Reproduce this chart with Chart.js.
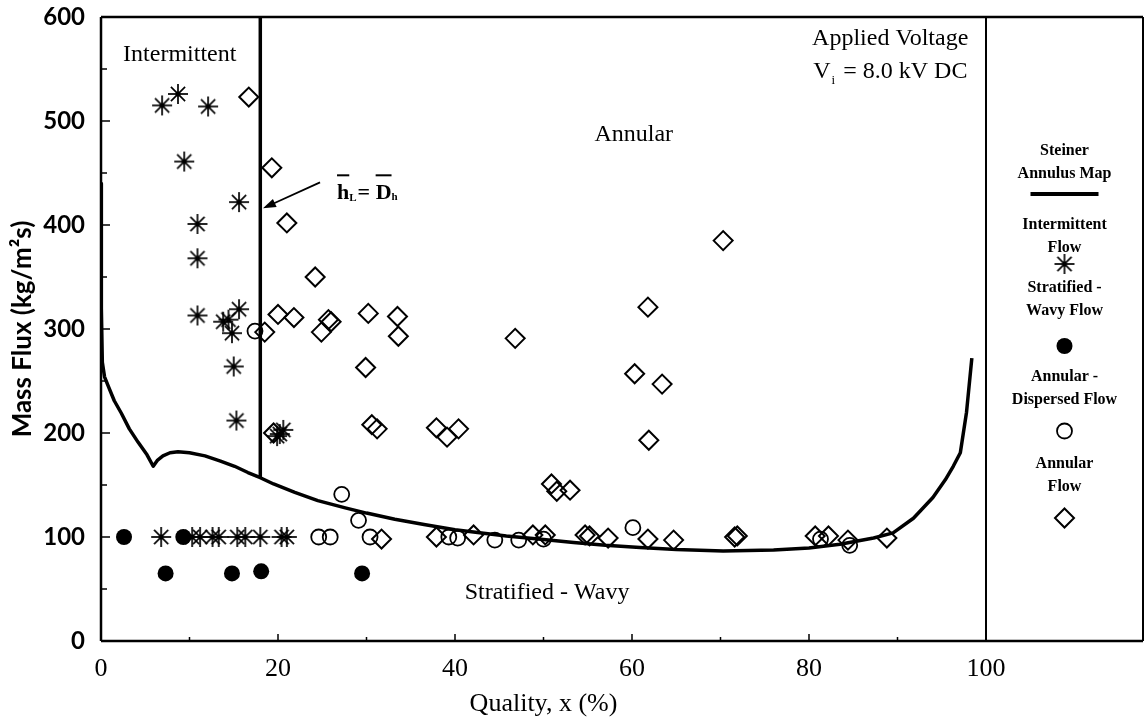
<!DOCTYPE html>
<html>
<head>
<meta charset="utf-8">
<script src="https://cdn.jsdelivr.net/npm/chart.js@4.4.1/dist/chart.umd.min.js"></script>
<style>
  html, body { margin: 0; padding: 0; background: #fff; }
  #wrap { width: 1145px; height: 720px; position: relative; }
</style>
</head>
<body>
<div id="wrap"><canvas id="flowMap"></canvas></div>
<script>
// Steiner annulus map boundary: quality x (%) vs mass flux (kg/m2s)
const steinerX = [0, 0.02, 0.06, 0.15, 0.4, 0.82, 1.5, 2.3, 3.2, 4.2, 5.2, 5.9, 6.4, 7.0, 7.8, 8.7, 10.0, 11.75, 13.5, 15.1, 16.6, 18.0,
  19.5, 21.9, 24.5, 27.6, 30.0, 33.2, 36.5, 40.0, 45.8, 50.0, 53.4, 57.0, 60.9, 65.0, 70.3, 76.0, 80.0, 83.5, 87.3, 89.5,
  91.8, 94.0, 95.4, 96.3, 97.1, 97.8, 98.4];
const steinerY = [440, 380, 320, 268, 254, 245, 231, 219, 204, 191, 179, 168, 174, 178, 181, 182, 181, 178, 173, 168, 162, 157,
  151, 143, 135, 128, 123, 117, 112, 107, 101, 97.5, 94.6, 92, 90, 88, 86.5, 87.5, 89.5, 93, 99, 104,
  118, 138, 155, 168, 181, 220, 272];

// h_L = D_h transition line
const transX = [18, 18];
const transY = [600, 157];

// Intermittent flow
const intermittentX = [6.9, 8.7, 12.1, 9.4, 15.6, 10.9, 10.9, 10.9, 13.8, 14.4, 15.6, 14.8, 15.0, 15.3, 19.9, 20.6, 20.2,
  6.8, 10.3, 11.2, 12.6, 13.3, 15.4, 16.3, 18.0, 20.4, 21.0];
const intermittentY = [515, 526, 514, 461, 422, 401, 368, 313, 307, 309, 319, 296, 264, 212, 197, 203, 199,
  100, 100, 100, 100, 100, 100, 100, 100, 100, 100];

// Stratified - wavy flow
const stratifiedX = [2.6, 9.3, 7.3, 14.8, 18.1, 29.5];
const stratifiedY = [100, 100, 65, 65, 67, 65];

// Annular - dispersed flow
const dispersedX = [17.4, 27.2, 29.1, 24.6, 25.9, 30.4, 39.3, 40.3, 44.5, 47.2, 50.0, 60.1, 81.3, 84.6];
const dispersedY = [298, 141, 116, 100, 100, 100, 100, 99, 97, 97, 98, 109, 98, 92];

// Annular flow
const annularX = [16.7, 19.3, 21.0, 24.2, 20.0, 21.8, 18.5, 25.7, 26.0, 24.9, 30.2, 33.5, 33.6, 29.9, 30.6, 31.2,
  37.9, 39.1, 40.4, 19.5, 70.3, 61.8, 46.8, 60.3, 63.4, 61.9, 50.9, 51.5, 53.0,
  31.7, 37.9, 42.1, 48.8, 50.2, 54.7, 55.2, 57.3, 61.8, 64.7, 71.6, 71.9, 80.7, 82.2, 84.4, 88.8];
const annularY = [523, 455, 402, 350, 314, 311, 297, 309, 307, 297, 315, 312, 293, 263, 208, 204,
  205, 196, 204, 200, 385, 321, 291, 257, 247, 193, 151, 144, 145,
  98, 100, 102, 102, 102, 102, 101, 99, 98, 97, 100, 101, 101, 101, 97, 99];

const xTicks = [0, 20, 40, 60, 80, 100];
const yTicks = [0, 100, 200, 300, 400, 500, 600];

const SERIF = '"Liberation Serif", "Times New Roman", serif';
const SANS = 'Lato, "Open Sans", sans-serif';

function pts(xs, ys) {
  return xs.map((x, i) => ({ x: x, y: ys[i] }));
}

// eight-spoke asterisk with a dot in the middle
function makeAsterisk(r, lw) {
  const c = document.createElement('canvas');
  const s = Math.ceil(2 * r + 4);
  c.width = s;
  c.height = s;
  const g = c.getContext('2d');
  const m = s / 2;
  g.strokeStyle = '#000';
  g.fillStyle = '#000';
  g.lineWidth = lw;
  for (let k = 0; k < 4; k++) {
    const a = k * Math.PI / 4;
    g.beginPath();
    g.moveTo(m - r * Math.cos(a), m - r * Math.sin(a));
    g.lineTo(m + r * Math.cos(a), m + r * Math.sin(a));
    g.stroke();
  }
  g.beginPath();
  g.arc(m, m, 2.5, 0, Math.PI * 2);
  g.fill();
  return c;
}
const starImg = makeAsterisk(10, 1.7);

function drawDiamond(ctx, x, y, r) {
  ctx.beginPath();
  ctx.moveTo(x, y - r);
  ctx.lineTo(x + r, y);
  ctx.lineTo(x, y + r);
  ctx.lineTo(x - r, y);
  ctx.closePath();
  ctx.stroke();
}

const decorPlugin = {
  id: 'flowMapDecor',
  afterDraw(chart) {
    const ctx = chart.ctx;
    const xs = chart.scales.x;
    const ys = chart.scales.y;
    const area = chart.chartArea;
    const W = chart.width;
    const px = v => xs.getPixelForValue(v);
    const py = v => ys.getPixelForValue(v);
    const right = W - 2;

    ctx.save();
    ctx.strokeStyle = '#000';
    ctx.fillStyle = '#000';

    // frame
    ctx.lineWidth = 2.5;
    ctx.beginPath();
    ctx.moveTo(area.left, area.top);
    ctx.lineTo(right, area.top);
    ctx.moveTo(area.left, area.top);
    ctx.lineTo(area.left, area.bottom);
    ctx.moveTo(area.left, area.bottom);
    ctx.lineTo(right, area.bottom);
    ctx.stroke();
    ctx.lineWidth = 2;
    ctx.beginPath();
    ctx.moveTo(area.right, area.top);
    ctx.lineTo(area.right, area.bottom);
    ctx.moveTo(right, area.top);
    ctx.lineTo(right, area.bottom);
    ctx.stroke();

    // inward tick marks
    ctx.lineWidth = 1.5;
    ctx.beginPath();
    for (let v = 50; v < 600; v += 50) {
      const len = v % 100 === 0 ? 9 : 6;
      ctx.moveTo(area.left, py(v));
      ctx.lineTo(area.left + len, py(v));
    }
    for (let v = 10; v < 100; v += 10) {
      const len = v % 20 === 0 ? 7 : 4;
      ctx.moveTo(px(v), area.bottom);
      ctx.lineTo(px(v), area.bottom - len);
    }
    ctx.stroke();

    // region labels
    ctx.font = '24px ' + SERIF;
    ctx.textBaseline = 'middle';
    ctx.textAlign = 'center';
    ctx.fillText('Intermittent', px(8.9), py(564));
    ctx.fillText('Annular', px(60.2), py(487));
    ctx.fillText('Stratified - Wavy', px(50.4), py(46.8));
    ctx.textAlign = 'right';
    ctx.fillText('Applied Voltage', px(98.0), py(579.5));

    // V_i = 8.0 kV DC
    const rest = '= 8.0 kV DC';
    const vy = py(547.6);
    const rx = px(97.9);
    const wRest = ctx.measureText(rest).width;
    ctx.fillText(rest, rx, vy);
    ctx.font = '13px ' + SERIF;
    const wi = ctx.measureText('i').width;
    ctx.textAlign = 'left';
    ctx.fillText('i', rx - wRest - 8 - wi, vy + 9);
    ctx.font = '24px ' + SERIF;
    ctx.textAlign = 'right';
    ctx.fillText('V', rx - wRest - 8 - wi - 1, vy);

    // arrow towards the transition line
    const tx = px(18.3), ty = py(416);
    const sx = px(24.75), sy = py(441);
    const ang = Math.atan2(ty - sy, tx - sx);
    ctx.lineWidth = 1.8;
    ctx.beginPath();
    ctx.moveTo(sx, sy);
    ctx.lineTo(tx - 8 * Math.cos(ang), ty - 8 * Math.sin(ang));
    ctx.stroke();
    ctx.beginPath();
    ctx.moveTo(tx, ty);
    ctx.lineTo(tx - 13 * Math.cos(ang) + 4.5 * Math.sin(ang), ty - 13 * Math.sin(ang) - 4.5 * Math.cos(ang));
    ctx.lineTo(tx - 13 * Math.cos(ang) - 4.5 * Math.sin(ang), ty - 13 * Math.sin(ang) + 4.5 * Math.cos(ang));
    ctx.closePath();
    ctx.fill();

    // h_L = D_h label with overbars
    ctx.textAlign = 'left';
    ctx.textBaseline = 'alphabetic';
    let hx = px(26.67);
    const hb = py(424.7);
    ctx.font = 'bold 22px ' + SERIF;
    const wh = ctx.measureText('h').width;
    ctx.fillText('h', hx, hb);
    ctx.fillRect(hx, hb - 25, wh, 2);
    hx += wh;
    ctx.font = 'bold 11px ' + SERIF;
    ctx.fillText('L', hx, hb + 2);
    hx += ctx.measureText('L').width + 1;
    ctx.font = 'bold 22px ' + SERIF;
    ctx.fillText('=', hx, hb);
    hx += ctx.measureText('= ').width;
    const wD = ctx.measureText('D').width;
    ctx.fillText('D', hx, hb);
    ctx.fillRect(hx, hb - 25, wD, 2);
    hx += wD;
    ctx.font = 'bold 11px ' + SERIF;
    ctx.fillText('h', hx, hb + 1);

    // legend panel
    const lx = (area.right + right) / 2;
    ctx.textAlign = 'center';
    ctx.textBaseline = 'middle';
    ctx.font = 'bold 16px ' + SERIF;
    const rows = [
      ['Steiner', 151], ['Annulus Map', 174],
      ['Intermittent', 225], ['Flow', 248],
      ['Stratified -', 288], ['Wavy Flow', 311],
      ['Annular -', 377], ['Dispersed Flow', 400],
      ['Annular', 464], ['Flow', 487]
    ];
    rows.forEach(r => ctx.fillText(r[0], lx, r[1]));
    ctx.lineWidth = 4;
    ctx.beginPath();
    ctx.moveTo(lx - 34, 194);
    ctx.lineTo(lx + 34, 194);
    ctx.stroke();
    ctx.drawImage(starImg, lx - starImg.width / 2, 264 - starImg.height / 2);
    ctx.beginPath();
    ctx.arc(lx, 346, 8, 0, Math.PI * 2);
    ctx.fill();
    ctx.lineWidth = 1.8;
    ctx.beginPath();
    ctx.arc(lx, 431, 7.5, 0, Math.PI * 2);
    ctx.stroke();
    ctx.lineWidth = 2;
    drawDiamond(ctx, lx, 518, 9.5);

    ctx.restore();
  }
};

new Chart(document.getElementById('flowMap'), {
  type: 'scatter',
  data: {
    datasets: [
      {
        label: 'Steiner Annulus Map',
        data: pts(steinerX, steinerY),
        showLine: true,
        borderColor: '#000',
        borderWidth: 3.5,
        borderJoinStyle: 'round',
        pointRadius: 0,
        tension: 0
      },
      {
        label: 'hL = Dh',
        data: pts(transX, transY),
        showLine: true,
        borderColor: '#000',
        borderWidth: 3.5,
        pointRadius: 0
      },
      {
        label: 'Intermittent Flow',
        data: pts(intermittentX, intermittentY),
        pointStyle: starImg,
        pointRadius: 10
      },
      {
        label: 'Stratified - Wavy Flow',
        data: pts(stratifiedX, stratifiedY),
        pointStyle: 'circle',
        pointRadius: 8,
        backgroundColor: '#000',
        borderColor: '#000',
        borderWidth: 0
      },
      {
        label: 'Annular - Dispersed Flow',
        data: pts(dispersedX, dispersedY),
        pointStyle: 'circle',
        pointRadius: 7.5,
        backgroundColor: 'rgba(0,0,0,0)',
        borderColor: '#000',
        borderWidth: 1.8
      },
      {
        label: 'Annular Flow',
        data: pts(annularX, annularY),
        pointStyle: 'rectRot',
        pointRadius: 9.5,
        backgroundColor: 'rgba(0,0,0,0)',
        borderColor: '#000',
        borderWidth: 2
      }
    ]
  },
  options: {
    responsive: true,
    maintainAspectRatio: false,
    devicePixelRatio: 1,
    animation: false,
    events: [],
    layout: { padding: { top: 17, right: 159, left: 0, bottom: 0 } },
    plugins: {
      legend: { display: false },
      tooltip: { enabled: false }
    },
    scales: {
      x: {
        type: 'linear',
        min: 0,
        max: 100,
        afterFit: s => { s.height = 79; },
        afterBuildTicks: s => { s.ticks = xTicks.map(v => ({ value: v })); },
        grid: { display: false, drawTicks: false },
        border: { display: false },
        ticks: {
          color: '#000',
          padding: 13,
          maxRotation: 0,
          font: { family: SERIF, size: 26 }
        },
        title: {
          display: true,
          text: 'Quality, x (%)',
          color: '#000',
          padding: { top: 1, bottom: 0 },
          font: { family: SERIF, size: 26 }
        }
      },
      y: {
        type: 'linear',
        min: 0,
        max: 600,
        afterFit: s => {
          s.width = 101;
          s.paddingTop = 0;
          s.paddingBottom = 0;
        },
        afterBuildTicks: s => { s.ticks = yTicks.map(v => ({ value: v })); },
        grid: { display: false, drawTicks: false },
        border: { display: false },
        ticks: {
          color: '#000',
          padding: 16,
          font: { family: SANS, size: 24, weight: 'bold' }
        },
        title: {
          display: true,
          text: 'Mass Flux (kg/m²s)',
          color: '#000',
          padding: { top: 7, bottom: 0 },
          font: { family: SANS, size: 26, weight: 'bold' }
        }
      }
    }
  },
  plugins: [decorPlugin]
});
</script>
</body>
</html>
